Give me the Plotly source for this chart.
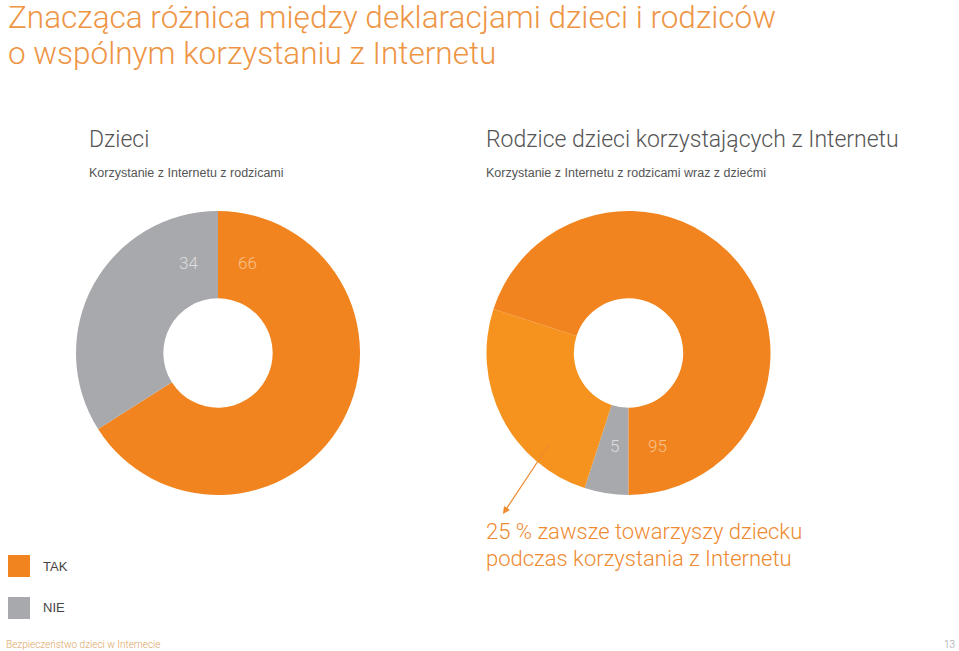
import plotly.graph_objects as go

W, H = 959, 651

# Data
left_labels = ["TAK", "NIE"]
left_values = [66, 34]
right_labels = ["NIE", "TAK (zawsze towarzyszy)", "TAK (pozostali)"]
right_values = [5, 25, 70]
right_total_tak = right_values[1] + right_values[2]

ORANGE = "#F2841F"
LIGHT_ORANGE = "#F5931E"
GRAY = "#A8A9AD"
TITLE_ORANGE = "#EE9545"
FONT = "Liberation Sans"
LIGHT_FONT = "Roboto"


def px(x):
    return x / W


def py(y):
    return 1 - y / H


fig = go.Figure()

R = 142
lc = (218, 353)
rc = (628.5, 353)

fig.add_trace(go.Pie(
    labels=left_labels, values=left_values, sort=False,
    direction="clockwise", rotation=0, hole=0.385,
    marker=dict(colors=[ORANGE, GRAY], line=dict(width=0)),
    textinfo="none", hoverinfo="label+value", showlegend=False,
    domain=dict(x=[px(lc[0] - R), px(lc[0] + R)], y=[py(lc[1] + R), py(lc[1] - R)]),
))

fig.add_trace(go.Pie(
    labels=right_labels, values=right_values, sort=False,
    direction="clockwise", rotation=180, hole=0.385,
    marker=dict(colors=[GRAY, LIGHT_ORANGE, ORANGE], line=dict(width=0)),
    textinfo="none", hoverinfo="label+value", showlegend=False,
    domain=dict(x=[px(rc[0] - R), px(rc[0] + R)], y=[py(rc[1] + R), py(rc[1] - R)]),
))

ann = []


def text(x, y, s, size, color, xanchor="left", yanchor="middle", family=FONT, weight=400):
    ann.append(dict(x=px(x), y=py(y), xref="paper", yref="paper", text=s,
                    showarrow=False, xanchor=xanchor, yanchor=yanchor,
                    font=dict(family=family, size=size, color=color, weight=weight),
                    align="left"))


# Title
text(6, 18, "Znacząca różnica między deklaracjami dzieci i rodziców", 31.5, TITLE_ORANGE,
     family=LIGHT_FONT, weight=300)
text(6, 54, "o wspólnym korzystaniu z Internetu", 31.5, TITLE_ORANGE,
     family=LIGHT_FONT, weight=300)

# Subtitles
text(87, 139, "Dzieci", 23, "#555555", family=LIGHT_FONT, weight=300)
text(87, 173, "Korzystanie z Internetu z rodzicami", 12.5, "#555555")
text(484, 139, "Rodzice dzieci korzystających z Internetu", 23, "#555555",
     family=LIGHT_FONT, weight=300)
text(484, 173, "Korzystanie z Internetu z rodzicami wraz z dziećmi", 12.5, "#555555")

# Slice value labels
text(200, 263, str(left_values[1]), 17, "#DCDCDE", xanchor="right", family=LIGHT_FONT, weight=300)
text(236, 263, str(left_values[0]), 17, "#F9C28E", xanchor="left", family=LIGHT_FONT, weight=300)
text(621, 446, str(right_values[0]), 17, "#DCDCDE", xanchor="right", family=LIGHT_FONT, weight=300)
text(646, 446, str(right_total_tak), 17, "#F9C28E", xanchor="left", family=LIGHT_FONT, weight=300)

# Callout text
text(484, 531, f"{right_values[1]} % zawsze towarzyszy dziecku", 22, "#EE8A30",
     family=LIGHT_FONT, weight=300)
text(484, 558, "podczas korzystania z Internetu", 22, "#EE8A30",
     family=LIGHT_FONT, weight=300)

# Arrow
ann.append(dict(x=px(503), y=py(514), xref="paper", yref="paper", text="",
                showarrow=True, ax=47, ay=-71, arrowhead=2, arrowsize=1.2,
                arrowwidth=1.2, arrowcolor="#EE8A30"))

# Legend
text(41, 566, "TAK", 13, "#444444")
text(41, 607, "NIE", 13, "#444444")

# Footer
text(4, 644, "Bezpieczeństwo dzieci w Internecie", 10, "#DDA463", family=LIGHT_FONT, weight=300)
text(957, 644, "13", 10, "#999999", xanchor="right", family=LIGHT_FONT, weight=300)

shapes = [
    dict(type="rect", xref="paper", yref="paper", x0=px(8), x1=px(30), y0=py(577), y1=py(555),
         fillcolor=ORANGE, line=dict(width=0)),
    dict(type="rect", xref="paper", yref="paper", x0=px(8), x1=px(30), y0=py(619), y1=py(597),
         fillcolor=GRAY, line=dict(width=0)),
]

fig.update_layout(
    width=W, height=H, margin=dict(l=0, r=0, t=0, b=0),
    paper_bgcolor="white", plot_bgcolor="white",
    annotations=ann, shapes=shapes, showlegend=False,
)

fig.write_html("out.html", config={"displayModeBar": False},
               post_script="document.body.style.margin='0';document.body.style.overflow='hidden';")
